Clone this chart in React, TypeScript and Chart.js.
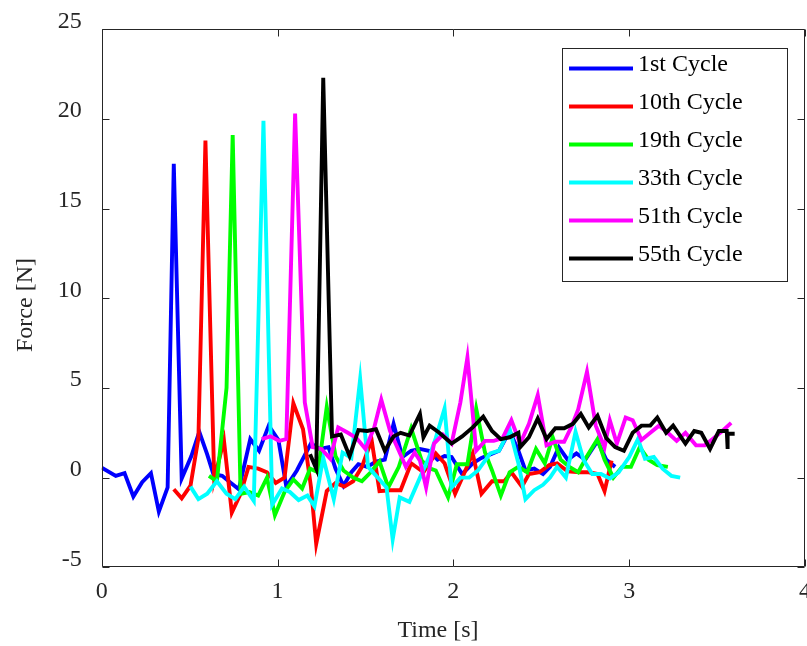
import React, { useEffect, useRef } from "react";
import { Chart, registerables } from "chart.js";

Chart.register(...registerables);

const seriesLabels = ["1st Cycle", "10th Cycle", "19th Cycle", "33th Cycle", "51th Cycle", "55th Cycle"];
const seriesColors = ["#0000ff", "#ff0000", "#00ff00", "#00ffff", "#ff00ff", "#000000"];

const cycle1Time = [0.0, 0.08, 0.13, 0.18, 0.23, 0.28, 0.325, 0.375, 0.41, 0.455, 0.51, 0.555, 0.6, 0.635, 0.685, 0.735, 0.78, 0.845, 0.895, 0.95, 1.005, 1.05, 1.11, 1.155, 1.19, 1.24, 1.29, 1.33, 1.375, 1.42, 1.46, 1.51, 1.56, 1.61, 1.66, 1.71, 1.76, 1.81, 1.86, 1.91, 1.95, 1.99, 2.05, 2.11, 2.16, 2.21, 2.26, 2.32, 2.37, 2.41, 2.46, 2.51, 2.55, 2.6, 2.65, 2.7, 2.75, 2.82, 2.87, 2.92];
const cycle1Force = [0.55, 0.1, 0.25, -1.05, -0.25, 0.25, -1.9, -0.55, 17.5, -0.05, 1.2, 2.55, 1.3, 0.2, 0.1, -0.3, -0.65, 2.15, 1.5, 2.9, 2.1, -0.5, 0.4, 1.25, 1.9, 1.6, 1.7, 0.5, -0.45, 0.3, 0.75, 0.6, 0.9, 1.0, 3.0, 1.15, 1.5, 1.6, 1.5, 1.0, 1.2, 1.15, 0.2, 0.8, 1.1, 1.3, 1.5, 2.6, 1.5, 0.4, 0.5, 0.2, 0.6, 1.7, 1.0, 1.35, 1.0, 2.05, 1.0, 0.6];

const cycle10Time = [0.41, 0.455, 0.505, 0.55, 0.59, 0.64, 0.695, 0.74, 0.79, 0.835, 0.89, 0.94, 0.99, 1.04, 1.09, 1.145, 1.19, 1.22, 1.28, 1.33, 1.38, 1.43, 1.48, 1.535, 1.58, 1.64, 1.7, 1.76, 1.83, 1.9, 1.95, 2.01, 2.06, 2.11, 2.16, 2.22, 2.29, 2.33, 2.39, 2.43, 2.49, 2.545, 2.59, 2.65, 2.72, 2.77, 2.82, 2.86, 2.9];
const cycle10Force = [-0.65, -1.15, -0.45, 2.2, 18.8, -0.1, 2.1, -1.95, -0.9, 0.6, 0.5, 0.3, -0.3, 0.0, 4.15, 2.7, -0.5, -3.7, -0.75, -0.3, -0.5, -0.2, 0.6, 2.1, -0.75, -0.7, -0.7, 0.8, 0.3, 1.35, 0.8, -0.9, 0.2, 1.35, -0.9, -0.2, -0.2, 0.3, -0.5, 0.2, 0.3, 0.7, 0.8, 0.35, 0.3, 0.3, 0.2, -0.75, 0.95];

const cycle19Time = [0.61, 0.655, 0.71, 0.745, 0.79, 0.84, 0.89, 0.94, 0.985, 1.04, 1.09, 1.14, 1.185, 1.23, 1.28, 1.33, 1.375, 1.43, 1.48, 1.53, 1.58, 1.63, 1.69, 1.76, 1.82, 1.87, 1.9, 1.97, 2.02, 2.08, 2.13, 2.18, 2.22, 2.27, 2.32, 2.37, 2.42, 2.47, 2.52, 2.565, 2.61, 2.66, 2.71, 2.76, 2.82, 2.86, 2.91, 2.96, 3.01, 3.06, 3.11, 3.16, 3.22];
const cycle19Force = [0.1, -0.2, 5.0, 19.1, -0.9, -0.8, -1.0, 0.0, -2.1, -0.8, -0.1, -0.6, 0.5, 0.3, 3.95, 1.2, 0.4, 0.0, -0.2, 0.3, 0.9, -0.55, 0.6, 2.75, 0.95, 0.5, 0.4, -1.1, 0.75, 0.75, 3.85, 1.4, 0.4, -1.0, 0.3, 0.6, 0.3, 1.6, 0.8, 2.25, 1.0, 0.6, 0.3, 1.2, 2.15, 1.0, 0.0, 0.6, 0.6, 1.7, 1.0, 0.7, 0.6];

const cycle33Time = [0.505, 0.55, 0.6, 0.655, 0.71, 0.76, 0.81, 0.865, 0.92, 0.97, 1.025, 1.07, 1.12, 1.17, 1.21, 1.26, 1.32, 1.37, 1.42, 1.47, 1.515, 1.57, 1.62, 1.655, 1.695, 1.75, 1.81, 1.86, 1.9, 1.95, 1.99, 2.04, 2.09, 2.14, 2.21, 2.26, 2.32, 2.37, 2.41, 2.46, 2.51, 2.55, 2.59, 2.64, 2.695, 2.74, 2.79, 2.84, 2.89, 2.94, 3.0, 3.05, 3.09, 3.14, 3.19, 3.24, 3.29];
const cycle33Force = [-0.5, -1.2, -0.9, -0.2, -0.9, -1.2, -0.5, -1.3, 19.9, -1.5, -0.6, -0.8, -1.25, -1.0, -1.6, 1.1, -1.2, 1.4, 1.1, 5.5, 0.6, 0.0, -0.55, -3.45, -1.1, -1.35, 0.0, 1.1, 2.2, 3.85, -0.55, 0.0, 0.0, 0.4, 1.35, 1.5, 2.7, 0.8, -1.2, -0.7, -0.4, 0.0, 0.6, 0.0, 2.55, 1.0, 0.2, 0.2, -0.05, 0.3, 1.15, 2.15, 1.05, 1.15, 0.5, 0.1, 0.0];

const cycle51Time = [0.91, 0.96, 1.01, 1.05, 1.1, 1.155, 1.2, 1.25, 1.3, 1.345, 1.4, 1.45, 1.5, 1.55, 1.59, 1.64, 1.69, 1.73, 1.78, 1.81, 1.845, 1.89, 1.94, 1.99, 2.04, 2.08, 2.13, 2.18, 2.23, 2.28, 2.33, 2.38, 2.43, 2.48, 2.53, 2.58, 2.63, 2.67, 2.71, 2.76, 2.81, 2.86, 2.89, 2.93, 2.98, 3.02, 3.07, 3.12, 3.17, 3.22, 3.27, 3.32, 3.38, 3.43, 3.48, 3.53, 3.58];
const cycle51Force = [2.15, 2.3, 2.05, 2.15, 20.3, 4.2, 1.7, 1.6, 1.05, 2.8, 2.5, 2.2, 1.6, 2.8, 4.35, 2.6, 1.5, 0.6, 1.4, 0.95, -0.55, 1.9, 2.4, 1.9, 4.2, 6.7, 1.5, 2.05, 2.05, 2.2, 3.2, 1.9, 3.0, 4.6, 1.8, 2.0, 2.0, 2.8, 3.8, 5.9, 2.9, 1.7, 3.2, 1.9, 3.35, 3.2, 2.1, 2.5, 2.9, 2.5, 2.05, 2.5, 1.8, 1.8, 2.2, 2.6, 3.05];

const cycle55Time = [1.185, 1.22, 1.26, 1.31, 1.36, 1.41, 1.46, 1.51, 1.56, 1.61, 1.66, 1.7, 1.75, 1.81, 1.83, 1.865, 1.92, 1.99, 2.05, 2.11, 2.17, 2.22, 2.27, 2.32, 2.37, 2.38, 2.43, 2.48, 2.53, 2.58, 2.63, 2.68, 2.725, 2.77, 2.82, 2.87, 2.92, 2.97, 3.02, 3.07, 3.12, 3.16, 3.21, 3.25, 3.32, 3.37, 3.41, 3.46, 3.51, 3.555, 3.56, 3.56, 3.6];
const cycle55Force = [1.3, 0.5, 22.3, 2.3, 2.4, 1.2, 2.65, 2.6, 2.7, 1.5, 2.3, 2.5, 2.35, 3.55, 2.25, 2.9, 2.5, 1.9, 2.3, 2.8, 3.4, 2.6, 2.15, 2.25, 2.5, 1.7, 2.25, 3.3, 2.15, 2.75, 2.75, 3.0, 3.55, 2.8, 3.45, 2.2, 1.7, 1.5, 2.5, 2.9, 2.9, 3.35, 2.5, 2.9, 1.9, 2.6, 2.5, 1.6, 2.6, 2.6, 1.6, 2.45, 2.45];

const seriesTimes = [cycle1Time, cycle10Time, cycle19Time, cycle33Time, cycle51Time, cycle55Time];
const seriesForces = [cycle1Force, cycle10Force, cycle19Force, cycle33Force, cycle51Force, cycle55Force];

const xTitle = "Time [s]";
const yTitle = "Force [N]";
const FONT = "'Liberation Serif', 'Times New Roman', serif";
const AXIS_COLOR = "#262626";

const decorPlugin = {
  id: "decor",
  afterDraw(chart: any) {
    const ctx = chart.ctx as CanvasRenderingContext2D;
    const a = chart.chartArea;
    const xs = chart.scales.x;
    const ys = chart.scales.y;
    ctx.save();
    ctx.strokeStyle = AXIS_COLOR;
    ctx.lineWidth = 1;
    const L = Math.round(a.left) + 0.5;
    const R = Math.round(a.right) - 0.5;
    const T = Math.round(a.top) + 0.5;
    const B = Math.round(a.bottom) - 0.5;
    ctx.beginPath();
    ctx.rect(L, T, R - L, B - T);
    ctx.stroke();
    const tl = 7;
    ctx.beginPath();
    xs.ticks.forEach((t: any) => {
      const px = Math.round(xs.getPixelForValue(t.value)) + 0.5;
      ctx.moveTo(px, B);
      ctx.lineTo(px, B - tl);
      ctx.moveTo(px, T);
      ctx.lineTo(px, T + tl);
    });
    ys.ticks.forEach((t: any) => {
      const py = Math.round(ys.getPixelForValue(t.value)) + 0.5;
      ctx.moveTo(L, py);
      ctx.lineTo(L + tl, py);
      ctx.moveTo(R, py);
      ctx.lineTo(R - tl, py);
    });
    ctx.stroke();

    const lx = 562, ly = 48, lw = 225, lh = 233;
    ctx.fillStyle = "#ffffff";
    ctx.fillRect(lx, ly, lw, lh);
    ctx.strokeStyle = AXIS_COLOR;
    ctx.lineWidth = 1;
    ctx.strokeRect(lx + 0.5, ly + 0.5, lw, lh);
    ctx.font = `24px ${FONT}`;
    ctx.textAlign = "left";
    ctx.textBaseline = "alphabetic";
    chart.data.datasets.forEach((ds: any, i: number) => {
      const y = 68.5 + i * 38;
      ctx.strokeStyle = ds.borderColor;
      ctx.lineWidth = 4;
      ctx.beginPath();
      ctx.moveTo(569, y);
      ctx.lineTo(633, y);
      ctx.stroke();
      ctx.fillStyle = "#000000";
      ctx.fillText(ds.label, 638, y + 2);
    });

    ctx.fillStyle = AXIS_COLOR;
    ctx.font = `24px ${FONT}`;
    ctx.textAlign = "center";
    ctx.textBaseline = "middle";
    ctx.fillText(xTitle, 438, 631);
    ctx.save();
    ctx.translate(26, 305);
    ctx.rotate(-Math.PI / 2);
    ctx.fillText(yTitle, 0, 0);
    ctx.restore();
    ctx.restore();
  },
};

function ForceChart() {
  const ref = useRef<HTMLCanvasElement | null>(null);
  useEffect(() => {
    if (!ref.current) return;
    const datasets = seriesLabels.map((label, i) => ({
      label,
      data: seriesTimes[i].map((t, j) => ({ x: t, y: seriesForces[i][j] })),
      borderColor: seriesColors[i],
      backgroundColor: seriesColors[i],
      borderWidth: 3.9,
      pointRadius: 0,
      tension: 0,
      fill: false,
      order: seriesLabels.length - i,
    }));
    const chart = new Chart(ref.current, {
      type: "line",
      data: { datasets },
      options: {
        responsive: false,
        animation: false,
        layout: { padding: { top: 29.3, right: 2, left: 0, bottom: 0 } },
        plugins: {
          legend: { display: false },
          tooltip: { enabled: false },
          title: { display: false },
        },
        scales: {
          x: {
            type: "linear",
            min: 0,
            max: 4,
            grid: { display: false, drawTicks: false },
            border: { display: false },
            ticks: {
              stepSize: 1,
              padding: 10,
              color: AXIS_COLOR,
              font: { family: FONT, size: 24 },
              maxRotation: 0,
            },
            afterFit: (s: any) => {
              s.height = 78.7;
              s.paddingLeft = 0;
              s.paddingRight = 0;
            },
          },
          y: {
            type: "linear",
            min: -5,
            max: 25,
            grid: { display: false, drawTicks: false },
            border: { display: false },
            ticks: {
              stepSize: 5,
              padding: 20,
              labelOffset: -8,
              color: AXIS_COLOR,
              font: { family: FONT, size: 24 },
            },
            afterFit: (s: any) => {
              s.width = 101.7;
              s.paddingTop = 0;
              s.paddingBottom = 0;
            },
          },
        },
      },
      plugins: [decorPlugin],
    });
    return () => chart.destroy();
  }, []);
  return <canvas ref={ref} width={807} height={646} style={{ width: 807, height: 646, display: "block" }} />;
}

export default function App() {
  return (
    <div style={{ position: "fixed", left: 0, top: 0, width: 807, height: 646, background: "#ffffff" }}>
      <ForceChart />
    </div>
  );
}
